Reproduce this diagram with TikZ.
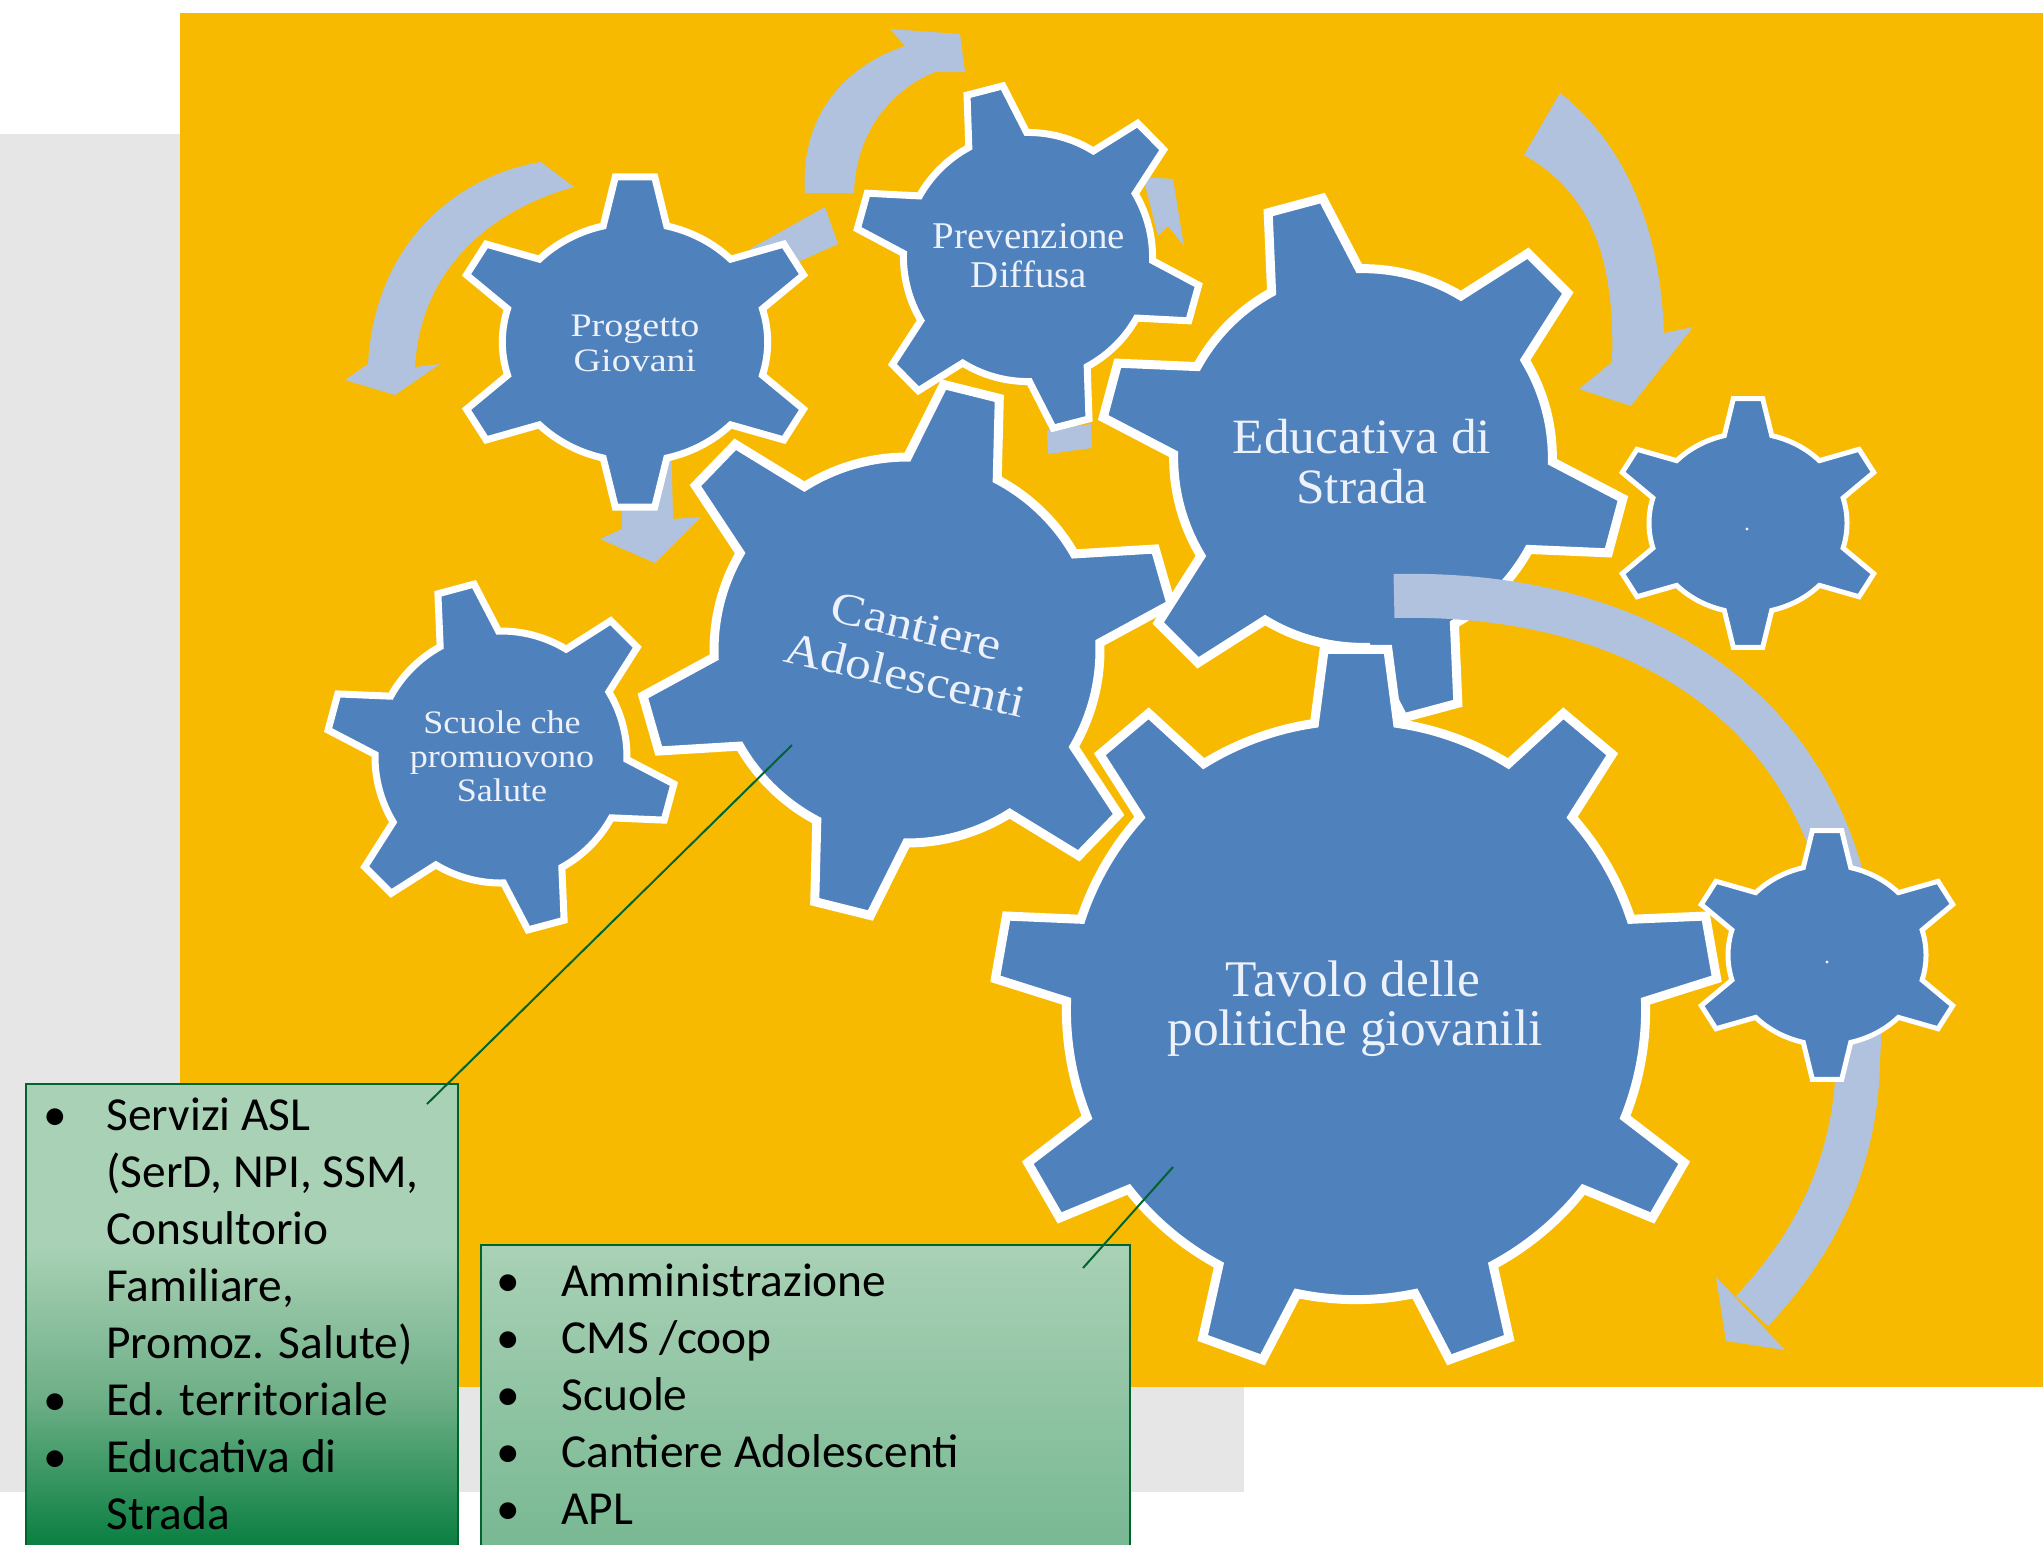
\documentclass[tikz,border=0pt]{standalone}
\usepackage{fontspec}
\setmainfont{Carlito}
\newfontfamily\gearfont{Liberation Serif}
\definecolor{bggray}{RGB}{231,230,230}
\definecolor{bgyellow}{RGB}{248,186,0}
\definecolor{gearblue}{RGB}{79,129,189}
\definecolor{arrowc}{RGB}{176,194,222}
\definecolor{geartxt}{RGB}{236,241,250}
\definecolor{glight}{RGB}{169,209,181}
\definecolor{gmid}{RGB}{110,175,135}
\definecolor{gdark}{RGB}{0,122,58}
\definecolor{gbot}{RGB}{118,183,145}
\definecolor{gline}{RGB}{0,100,45}
\pgfdeclareverticalshading{leftboxshade}{100bp}{color(0bp)=(gdark); color(25bp)=(gdark); color(42bp)=(gmid); color(58bp)=(glight); color(100bp)=(glight)}
% #1 style, #2 cx, #3 cy, #4 R(px), #5 teeth, #6 phase, #7 body ratio, #8 base half-angle, #9 tip half-angle
\newcommand{\drawgearshape}[9]{%
  \pgfmathsetmacro{\gearRo}{0.5*#4}%
  \pgfmathsetmacro{\gearRi}{0.5*#4*#7}%
  \pgfmathsetmacro{\gearSt}{360/#5}%
  \path[shift={(#2,#3)}, #1] (#6-#8:\gearRi pt)
    \foreach \k [evaluate=\k as \th using #6+(\k-1)*\gearSt] in {1,...,#5} {
      -- (\th-#9:\gearRo pt) -- (\th+#9:\gearRo pt) -- (\th+#8:\gearRi pt)
      arc[start angle=\th+#8, end angle=\th+\gearSt-#8, radius=\gearRi pt]
    } -- cycle;
}
\begin{document}
\begin{tikzpicture}[x=0.5pt,y=-0.5pt,
  gear/.style={fill=gearblue, draw=white, line width=3.5pt, line join=miter},
  biggear/.style={gear, line width=4.5pt},
  smallgear/.style={gear, line width=2.5pt},
  arrowfill/.style={fill=arrowc, draw=none},
  geartext/.style={text=geartxt, inner sep=0pt, anchor=base},
  boxtext/.style={text=black, inner sep=0pt, anchor=base west, font=\fontsize{23.7}{28.5}\selectfont},
  bulletmark/.style={text=black, inner sep=0pt, anchor=base, font=\fontsize{23.7}{28.5}\selectfont},
  callout/.style={draw=gline, line width=1pt}]
\useasboundingbox (0,0) rectangle (2043,1544);
\fill[white] (0,0) rectangle (2043,1544);
\fill[bggray] (0,134) rectangle (1244,1492);
\fill[bgyellow] (180,13) rectangle (2043,1387);

% arrows behind the gears
\fill[arrowfill] (541,162) .. controls (460,175) and (375,240) .. (368,364) -- (345,380) -- (395,395) -- (440,364) -- (415,367) .. controls (420,270) and (490,210) .. (574,187) -- cycle;
\fill[arrowfill] (805,193) .. controls (800,120) and (840,68) .. (905,46) -- (890,29) -- (960,34) -- (965,72) -- (935,72) .. controls (895,88) and (856,128) .. (854,193) -- cycle;
\fill[arrowfill] (750,249) -- (825,207) -- (838,244) -- (789,266) -- cycle;
\fill[arrowfill] (622,430) -- (671,430) -- (673,519) -- (701,517) -- (655,563) -- (600,539) -- (622,529) -- cycle;
\fill[arrowfill] (1143,177) -- (1173,179) -- (1184,246) -- (1168,226) -- (1158,236) -- cycle;
\fill[arrowfill] (1047,430) -- (1091,424) -- (1092,448) -- (1048,454) -- cycle;
\fill[arrowfill] (1560,93) .. controls (1620,140) and (1660,220) .. (1664,333) -- (1693,327) -- (1631,406) -- (1579,389) -- (1612,362) .. controls (1615,265) and (1595,195) .. (1524,155) -- cycle;

% gears
\drawgearshape{gear, xscale=1.11}{635}{342}{166}{6}{30}{0.72}{13.87}{6.14}
\drawgearshape{gear}{1028}{257}{173}{6}{44.5}{0.72}{13.87}{6.14}
\drawgearshape{gear}{501}{757}{175}{6}{45}{0.72}{13.87}{6.14}
\drawgearshape{biggear}{907}{650}{268}{6}{16}{0.72}{13.87}{6.14}
\drawgearshape{biggear}{1363}{458}{263}{6}{45}{0.72}{13.87}{6.14}
\drawgearshape{smallgear, xscale=1.1}{1748}{523}{125}{6}{30}{0.72}{13.87}{6.14}

% big arc arrow (over Educativa)
\draw[arrowc, line width=22pt] (1394,596) .. controls (1650,590) and (1880,720) .. (1858,1060) .. controls (1856,1180) and (1800,1260) .. (1752,1311);
\fill[arrowfill] (1716,1277) -- (1785,1350) -- (1726,1341) -- cycle;

\drawgearshape{biggear}{1356}{1010}{362}{9}{10}{0.8}{8.26}{5.05}
\drawgearshape{smallgear, xscale=1.1}{1827}{955}{125}{6}{30}{0.72}{13.87}{6.14}
\fill[geartxt] (1747,529) circle[radius=0.8pt];
\fill[geartxt] (1827,962) circle[radius=0.8pt];

% gear labels
\node[geartext, font={\gearfont\fontsize{16.4}{19}\selectfont}] (pg1) at (635,336) {\scalebox{1.16}[1]{Progetto}};
\node[geartext, font={\gearfont\fontsize{16.4}{19}\selectfont}] (pg2) at (635,371) {\scalebox{1.16}[1]{Giovani}};
\node[geartext, font={\gearfont\fontsize{18.9}{22}\selectfont}] (pd1) at (1029,248) {\scalebox{1.03}[1]{Prevenzione}};
\node[geartext, font={\gearfont\fontsize{18.9}{22}\selectfont}] (pd2) at (1029,287) {\scalebox{1.03}[1]{Diffusa}};
\node[text=geartxt, inner sep=0pt, anchor=center, align=center, rotate=-13.3, font={\gearfont\fontsize{22.5}{25}\selectfont}] (ca) at (911,651) {\scalebox{1.14}[1]{Cantiere}\\\scalebox{1.14}[1]{Adolescenti}};
\node[geartext, font={\gearfont\fontsize{24.7}{29}\selectfont}] (ed1) at (1362,453) {\scalebox{1.04}[1]{Educativa di}};
\node[geartext, font={\gearfont\fontsize{24.7}{29}\selectfont}] (ed2) at (1362,503) {\scalebox{1.04}[1]{Strada}};
\node[geartext, font={\gearfont\fontsize{16.4}{19}\selectfont}] (sc1) at (502,733) {\scalebox{1.10}[1]{Scuole che}};
\node[geartext, font={\gearfont\fontsize{16.4}{19}\selectfont}] (sc2) at (502,767) {\scalebox{1.10}[1]{promuovono}};
\node[geartext, font={\gearfont\fontsize{16.4}{19}\selectfont}] (sc3) at (502,801) {\scalebox{1.10}[1]{Salute}};
\node[geartext, font={\gearfont\fontsize{25.7}{30}\selectfont}] (tv1) at (1353,996) {Tavolo delle};
\node[geartext, font={\gearfont\fontsize{25.7}{30}\selectfont}] (tv2) at (1355,1045) {politiche giovanili};

% green boxes
\path[shade, shading=leftboxshade, draw=gline, line width=1pt] (26,1084) rectangle (458,1560);
\path[top color=glight, bottom color=gbot, draw=gline, line width=1pt] (481,1245) rectangle (1130,1560);

\node[bulletmark] (lb1) at (55,1130) {•};
\node[boxtext] (lt1) at (106,1130) {Servizi ASL};
\node[boxtext] (lt2) at (106,1187) {(SerD, NPI, SSM,};
\node[boxtext] (lt3) at (106,1244) {Consultorio};
\node[boxtext] (lt4) at (106,1301) {Familiare,};
\node[boxtext] (lt5) at (106,1358) {Promoz. Salute)};
\node[bulletmark] (lb2) at (55,1415) {•};
\node[boxtext] (lt6) at (106,1415) {Ed. territoriale};
\node[bulletmark] (lb3) at (55,1472) {•};
\node[boxtext] (lt7) at (106,1472) {Educativa di};
\node[boxtext] (lt8) at (106,1529) {Strada};

\node[bulletmark] (rb1) at (508,1296) {•};
\node[boxtext] (rt1) at (561,1296) {Amministrazione};
\node[bulletmark] (rb2) at (508,1353) {•};
\node[boxtext] (rt2) at (561,1353) {CMS /coop};
\node[bulletmark] (rb3) at (508,1410) {•};
\node[boxtext] (rt3) at (561,1410) {Scuole};
\node[bulletmark] (rb4) at (508,1467) {•};
\node[boxtext] (rt4) at (561,1467) {Cantiere Adolescenti};
\node[bulletmark] (rb5) at (508,1524) {•};
\node[boxtext] (rt5) at (561,1524) {APL};

% callout lines
\coordinate (cA1) at (427,1104);
\coordinate (cA2) at (792,745);
\coordinate (cB1) at (1083,1268);
\coordinate (cB2) at (1173,1167);
\draw[callout] (cA1) -- (cA2);
\draw[callout] (cB1) -- (cB2);
\end{tikzpicture}
\end{document}
